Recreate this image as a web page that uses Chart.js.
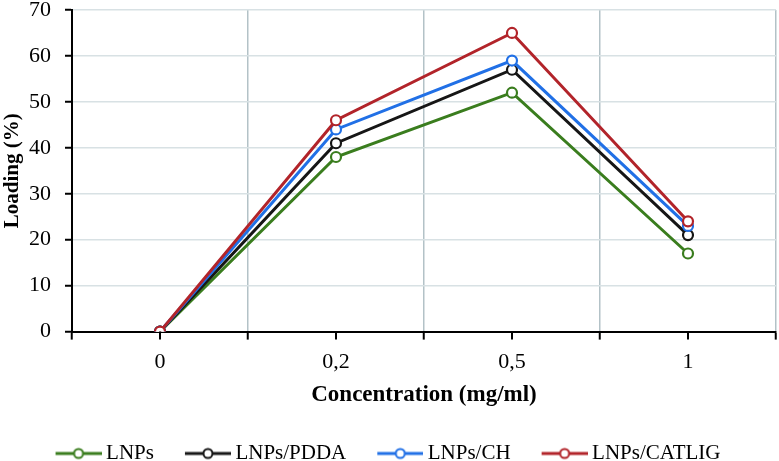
<!DOCTYPE html>
<html>
<head>
<meta charset="utf-8">
<script src="https://cdn.jsdelivr.net/npm/chart.js@4/dist/chart.umd.min.js"></script>
<style>
  body { margin: 0; background: #fff; }
  #wrap { width: 779px; height: 461px; }
</style>
</head>
<body>
<div id="wrap"><canvas id="c" width="779" height="461"></canvas></div>
<script>
var categories = ['0', '0,2', '0,5', '1'];
var lnps = [0, 38, 52, 17];
var lnpsPdda = [0, 41, 57, 21];
var lnpsCh = [0, 44, 59, 23];
var lnpsCatlig = [0, 46, 65, 24];
var yTicks = [0, 10, 20, 30, 40, 50, 60, 70];

var GREEN = '#3a7d1e', BLACK = '#161616', BLUE = '#2170e6', RED = '#b2242a';
var FONT = '"Liberation Serif", "Times New Roman", serif';

// legend symbol: line with hollow circle, a bit wider than its box so the text sits close
function legendMark(color){
	var cv = document.createElement('canvas');
	cv.width = 52; cv.height = 14;
	var g = cv.getContext('2d');
	g.strokeStyle = color;
	g.lineWidth = 3;
	g.beginPath(); g.moveTo(6, 7); g.lineTo(52, 7); g.stroke();
	g.fillStyle = '#fff';
	g.lineWidth = 2;
	g.beginPath(); g.arc(29, 7, 4.5, 0, Math.PI*2); g.fill(); g.stroke();
	return cv;
}

function ds(label, data, color, order){
	return {
		label: label, data: data, order: order,
		borderColor: color, borderWidth: 3,
		pointRadius: 5, pointBorderWidth: 2.2,
		pointBackgroundColor: '#fff', pointBorderColor: color,
		pointStyle: 'circle',
		legendMark: legendMark(color),
		tension: 0
	};
}

// tick marks at the category centres (the grid draws the boundary ones)
var centreTicks = {
	id: 'centreTicks',
	afterDraw: function(chart){
		var x = chart.scales.x, ctx = chart.ctx;
		ctx.save();
		ctx.strokeStyle = '#000';
		ctx.lineWidth = 2;
		categories.forEach(function(c, i){
			var px = Math.round(x.getPixelForValue(i));
			ctx.beginPath(); ctx.moveTo(px, x.top); ctx.lineTo(px, x.top + 8); ctx.stroke();
		});
		ctx.restore();
	}
};

new Chart(document.getElementById('c'), {
	type: 'line',
	data: {
		labels: categories,
		datasets: [
			ds('LNPs', lnps, GREEN, 3),
			ds('LNPs/PDDA', lnpsPdda, BLACK, 2),
			ds('LNPs/CH', lnpsCh, BLUE, 1),
			ds('LNPs/CATLIG', lnpsCatlig, RED, 0)
		]
	},
	options: {
		responsive: false,
		animation: false,
		layout: { autoPadding: false, padding: { top: 10, right: 3, left: 0, bottom: -13 } },
		scales: {
			x: {
				offset: true,
				afterFit: function(s){ s.paddingLeft = 0; s.paddingRight = 0; },
				grid: { offset: true, color: '#b3c2c7', lineWidth: 1.5, tickColor: '#000', tickLength: 8, tickWidth: 2 },
				border: { color: '#000', width: 2 },
				ticks: { color: '#000', font: { family: FONT, size: 22 }, padding: 9 },
				title: { display: true, text: 'Concentration (mg/ml)', color: '#000',
					font: { family: FONT, size: 23, weight: 'bold', lineHeight: 1.0 }, padding: { top: 0, bottom: 5 } }
			},
			y: {
				min: 0, max: 70,
				afterBuildTicks: function(s){ s.ticks = yTicks.map(function(v){ return { value: v }; }); },
				afterFit: function(s){ s.width = 72; s.paddingTop = 0; s.paddingBottom = 0; },
				grid: { color: '#d8e1e4', lineWidth: 1.5, tickColor: '#000', tickLength: 7, tickWidth: 2 },
				border: { color: '#000', width: 2 },
				ticks: { color: '#000', font: { family: FONT, size: 22 }, padding: 14 },
				title: { display: true, text: 'Loading (%)', color: '#000',
					font: { family: FONT, size: 21, weight: 'bold' }, padding: { top: 0, bottom: 0 } }
			}
		},
		plugins: {
			legend: {
				position: 'bottom',
				labels: {
					usePointStyle: true, pointStyleWidth: 40, boxHeight: 14,
					color: '#000', font: { family: FONT, size: 21 }, padding: 31,
					generateLabels: function(chart){
						return chart.data.datasets.map(function(d, i){
							return { text: d.label, pointStyle: d.legendMark, datasetIndex: i,
								fillStyle: '#fff', strokeStyle: d.borderColor, lineWidth: 0, hidden: false };
						});
					}
				}
			},
			tooltip: { enabled: false }
		}
	},
	plugins: [centreTicks]
});
</script>
</body>
</html>
